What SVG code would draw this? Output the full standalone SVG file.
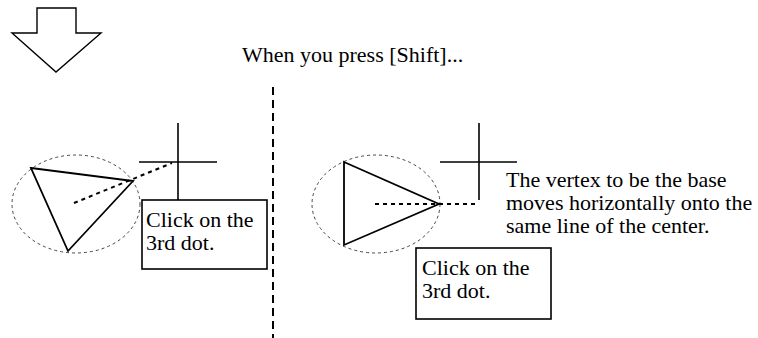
<svg xmlns="http://www.w3.org/2000/svg" width="758" height="338" viewBox="0 0 758 338">
<style>
text{font-family:"Liberation Serif","Times New Roman",serif;font-size:22px;fill:#000}
.sh{fill:none;stroke:#000;stroke-width:1.8}
.ell{fill:none;stroke:#444;stroke-width:1;stroke-dasharray:3 3}
.dot{fill:none;stroke:#000;stroke-width:2;stroke-dasharray:4 4}
.cross{fill:none;stroke:#000;stroke-width:1.6}
.box{fill:#fff;stroke:#000;stroke-width:1.6}
</style>
<rect width="758" height="338" fill="#fff"/>
<g id="arrow">
<polygon points="37,8 76,8 76,33 101,33 56,72 12,33 37,33" fill="#fff" stroke="#000" stroke-width="1.4"/>
</g>
<g id="title"><text x="242" y="62">When you press [Shift]...</text></g>
<g id="divider">
<line x1="273" y1="87" x2="273" y2="338" stroke="#000" stroke-width="2" stroke-dasharray="8 5"/>
</g>
<g id="left-figure">
<ellipse class="ell" cx="76" cy="204" rx="64" ry="49"/>
<polygon class="sh" points="31,168 133,181 68,251"/>
<line class="dot" x1="74" y1="203" x2="172" y2="163"/>
<line class="cross" x1="139" y1="162" x2="217" y2="162"/>
<line class="cross" x1="178" y1="123" x2="178" y2="200"/>
</g>
<g id="left-box">
<rect class="box" x="142" y="200" width="125" height="69"/>
<text x="146" y="227">Click on the</text>
<text x="146" y="250">3rd dot.</text>
</g>
<g id="right-figure">
<ellipse class="ell" cx="376" cy="204" rx="64" ry="49"/>
<polygon class="sh" points="344,162 439,204 344,245"/>
<line class="dot" x1="375" y1="204" x2="479" y2="204"/>
<line class="cross" x1="440" y1="162" x2="517" y2="162"/>
<line class="cross" x1="479" y1="123" x2="479" y2="200"/>
</g>
<g id="right-note">
<text x="506" y="187">The vertex to be the base</text>
<text x="506" y="210">moves horizontally onto the</text>
<text x="506" y="233">same line of the center.</text>
</g>
<g id="right-box">
<rect class="box" x="416" y="248" width="135" height="71"/>
<text x="422" y="275">Click on the</text>
<text x="422" y="298">3rd dot.</text>
</g>
</svg>
